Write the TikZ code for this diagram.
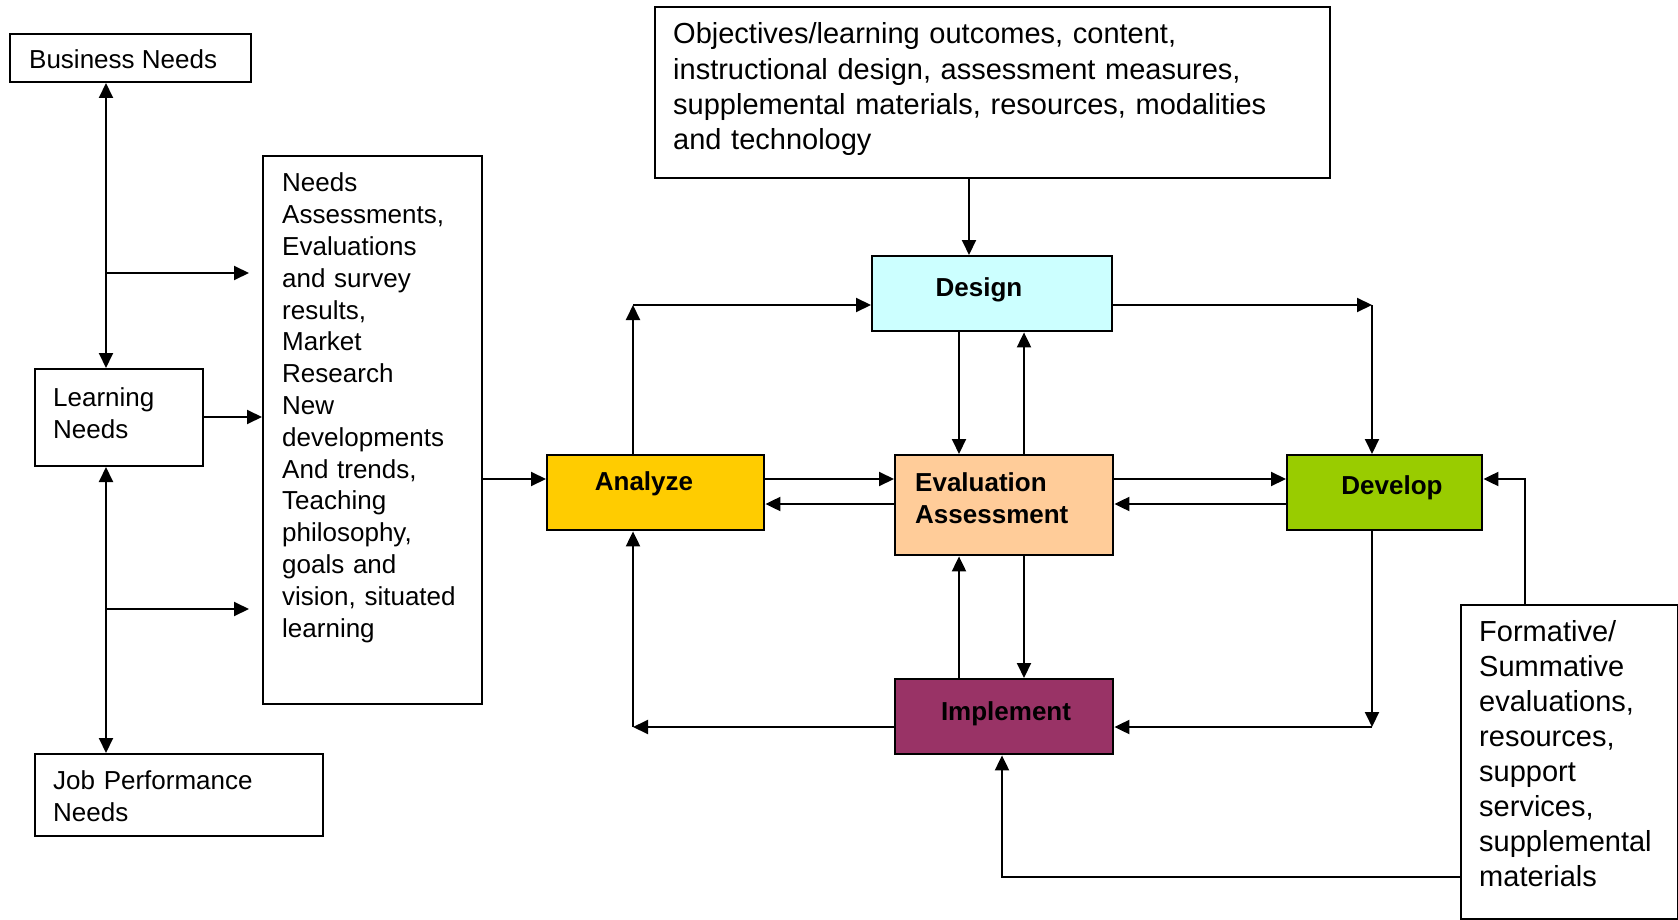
\documentclass[tikz,border=0pt]{standalone}
\usepackage{fontspec}
\setmainfont{Liberation Sans}
\usetikzlibrary{arrows.meta,calc}
\definecolor{cDesign}{HTML}{CCFFFF}
\definecolor{cAnalyze}{HTML}{FFCC00}
\definecolor{cEval}{HTML}{FFCC99}
\definecolor{cDevelop}{HTML}{99CC00}
\definecolor{cImpl}{HTML}{993366}
\tikzset{
  box/.style={draw, line width=2pt, rectangle, inner sep=0pt, anchor=north west},
  cbox/.style={draw, line width=2.4pt, rectangle, inner sep=0pt, anchor=north west},
  txt/.style={inner sep=0pt, anchor=base west, align=left, font=\fontsize{26}{31.8}\selectfont},
  btxt/.style={inner sep=0pt, anchor=base, font=\fontsize{26}{32}\selectfont\bfseries},
  conn/.style={line width=2pt, -{Triangle[length=15pt,width=14pt]}},
  conn2/.style={line width=2pt, {Triangle[length=15pt,width=14pt]}-{Triangle[length=15pt,width=14pt]}},
  line/.style={line width=2pt}
}
\begin{document}
\begin{tikzpicture}[x=1pt,y=-1pt]
\fill[white] (0,0) rectangle (1678,920);
\useasboundingbox (0,0) rectangle (1678,920);

% left column boxes
\node[box, minimum width=241pt, minimum height=48pt] (bn) at (9,33) {};
\node[txt] (bnt) at (29,68.6) {Business Needs};
\node[box, minimum width=168pt, minimum height=97pt] (ln) at (34,368) {};
\node[txt, text width=140pt, font=\fontsize{26}{32}\selectfont] (lnt) at (53,406.7) {Learning\\Needs};
\node[box, minimum width=288pt, minimum height=82pt] (jp) at (34,753) {};
\node[txt, text width=260pt, font=\fontsize{26}{32}\selectfont] (jpt) at (53,789.6) {Job Performance\\Needs};

% needs assessments box
\node[box, minimum width=219pt, minimum height=548pt] (nd) at (262,155) {};
\node[txt, text width=200pt] (ndt) at (282,192) {Needs\\Assessments,\\Evaluations\\and survey\\results,\\Market\\Research\\New\\developments\\And trends,\\Teaching\\philosophy,\\goals and\\vision, situated\\learning};

% objectives box
\node[box, minimum width=675pt, minimum height=171pt] (ob) at (654,6) {};
\node[txt, text width=650pt, font=\fontsize{29}{35.3}\selectfont] (obt) at (673,44) {Objectives/learning outcomes, content,\\instructional design, assessment measures,\\supplemental materials, resources, modalities\\and technology};

% formative box
\node[box, minimum width=217pt, minimum height=314pt] (fo) at (1460,604) {};
\node[txt, text width=195pt, font=\fontsize{29}{35.1}\selectfont] (fot) at (1479,641) {Formative/\\Summative\\evaluations,\\resources,\\support\\services,\\supplemental\\materials};

% coloured boxes
\node[cbox, fill=cDesign, minimum width=240pt, minimum height=75pt] (de) at (871,255) {};
\node[btxt] (det) at (979,296) {Design};
\node[cbox, fill=cAnalyze, minimum width=217pt, minimum height=75pt] (an) at (546,454) {};
\node[btxt] (ant) at (644,490) {Analyze};
\node[cbox, fill=cEval, minimum width=218pt, minimum height=100pt] (ev) at (894,454) {};
\node[txt, text width=200pt, font=\fontsize{26}{32}\selectfont\bfseries] (evt) at (915,491) {Evaluation\\Assessment};
\node[cbox, fill=cDevelop, minimum width=195pt, minimum height=75pt] (dv) at (1286,454) {};
\node[btxt] (dvt) at (1392,494) {Develop};
\node[cbox, fill=cImpl, minimum width=218pt, minimum height=75pt] (im) at (894,678) {};
\node[btxt] (imt) at (1006,720.6) {Implement};

% helper coordinates
\coordinate (b1) at (106,273);
\coordinate (b1e) at (249,273);
\coordinate (b2) at (106,609);
\coordinate (b2e) at (249,609);
\coordinate (r1) at (0,479);
\coordinate (r2) at (0,504);
\coordinate (ln1) at (0,417);
\coordinate (co) at (969,0);
\coordinate (c1) at (959,0);
\coordinate (c2) at (1024,0);
\coordinate (k1) at (633,305);
\coordinate (k2) at (1372,305);
\coordinate (k3) at (633,727);
\coordinate (k4) at (1372,727);
\coordinate (k5) at (1525,479);
\coordinate (k6) at (1002,877);

% left connectors
\draw[conn2] (bn.south -| b1) -- (ln.north -| b1);
\draw[conn] (b1) -- (b1e);
\draw[conn] (ln.east |- ln1) -- (nd.west |- ln1);
\draw[conn2] (ln.south -| b2) -- (jp.north -| b2);
\draw[conn] (b2) -- (b2e);
\draw[conn] (nd.east |- r1) -- (an.west |- r1);

% objectives to design
\draw[conn] (ob.south -| co) -- (de.north -| co);

% analyze <-> design
\draw[conn] (an.north -| k1) -- (k1);
\draw[conn] (k1) -- (de.west |- k1);
% design -> develop
\draw[conn] (de.east |- k2) -- (k2);
\draw[conn] (k2) -- (dv.north -| k2);
% design <-> eval
\draw[conn] (de.south -| c1) -- (ev.north -| c1);
\draw[conn] (ev.north -| c2) -- (de.south -| c2);
% analyze <-> eval
\draw[conn] (an.east |- r1) -- (ev.west |- r1);
\draw[conn] (ev.west |- r2) -- (an.east |- r2);
% eval <-> develop
\draw[conn] (ev.east |- r1) -- (dv.west |- r1);
\draw[conn] (dv.west |- r2) -- (ev.east |- r2);
% eval <-> implement
\draw[conn] (ev.south -| c2) -- (im.north -| c2);
\draw[conn] (im.north -| c1) -- (ev.south -| c1);
% implement -> analyze
\draw[conn] (im.west |- k3) -- (k3);
\draw[conn] (k3) -- (an.south -| k3);
% develop -> implement
\draw[conn] (dv.south -| k4) -- (k4);
\draw[conn] (k4) -- (im.east |- k4);
% formative -> develop
\draw[conn] (fo.north -| k5) -- (k5) -- (dv.east |- k5);
% formative -> implement
\draw[conn] (fo.west |- k6) -- (k6) -- (im.south -| k6);
\end{tikzpicture}
\end{document}
